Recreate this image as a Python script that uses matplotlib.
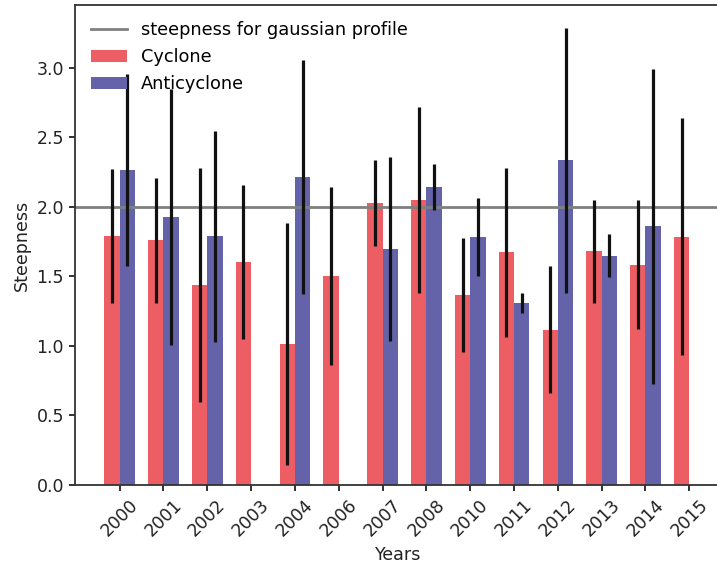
import numpy as np
import matplotlib
matplotlib.use("Agg")
import matplotlib.pyplot as plt

# Dados
anos = ["2000", "2001", "2002", "2003", "2004", "2006", "2007",
        "2008", "2010", "2011", "2012", "2013", "2014", "2015"]

ciclone = [1.79, 1.76, 1.44, 1.605, 1.017, 1.505, 2.026,
           2.05, 1.368, 1.673, 1.117, 1.682, 1.584, 1.786]
ciclone_err = [0.48, 0.45, 0.84, 0.555, 0.87, 0.64, 0.31,
               0.67, 0.41, 0.61, 0.455, 0.37, 0.465, 0.85]

# None = sem anticiclone naquele ano
anticiclone = [2.262, 1.925, 1.788, None, 2.216, None, 1.699,
               2.146, 1.786, 1.31, 2.334, 1.649, 1.86, None]
anticiclone_err = [0.69, 0.92, 0.76, None, 0.84, None, 0.66,
                   0.165, 0.28, 0.07, 0.95, 0.155, 1.135, None]

gauss_steep = 2.0

# Configurações
largura = 0.35
cor_cic = "#ec5e63"
cor_anti = "#6462a9"
err_kw = dict(ecolor="#111111", elinewidth=2.3, capsize=0)

x = np.arange(len(anos))
idx_anti = [i for i, v in enumerate(anticiclone) if v is not None]
x_anti = x[idx_anti]
h_anti = [anticiclone[i] for i in idx_anti]
e_anti = [anticiclone_err[i] for i in idx_anti]

fig = plt.figure(figsize=(7.17, 5.72), dpi=100)
ax = fig.add_axes([0.1046, 0.1521, 0.8976, 0.8383])

ax.axhline(gauss_steep, color="grey", lw=2.0,
           label="steepness for gaussian profile")
ax.bar(x - largura / 2, ciclone, largura, yerr=ciclone_err,
       color=cor_cic, error_kw=err_kw, label="Cyclone")
ax.bar(x_anti + largura / 2, h_anti, largura, yerr=e_anti,
       color=cor_anti, error_kw=err_kw, label="Anticyclone")

ax.set_xticks(x)
ax.set_xticklabels(anos, rotation=45, fontsize=12.5)
ax.tick_params(axis="y", labelsize=12.5)
ax.tick_params(length=4.5, width=1.3, color="#222222", labelcolor="#222222")
ax.set_xlabel("Years", fontsize=12.6, color="#222222")
ax.set_ylabel("Steepness", fontsize=12.6, color="#222222")

for s in ax.spines.values():
    s.set_color("#333333")
    s.set_linewidth(1.3)
ax.spines["right"].set_visible(False)

ax.legend(loc="upper left", frameon=False, fontsize=12.8)

fig.savefig("out.png", dpi=100)
